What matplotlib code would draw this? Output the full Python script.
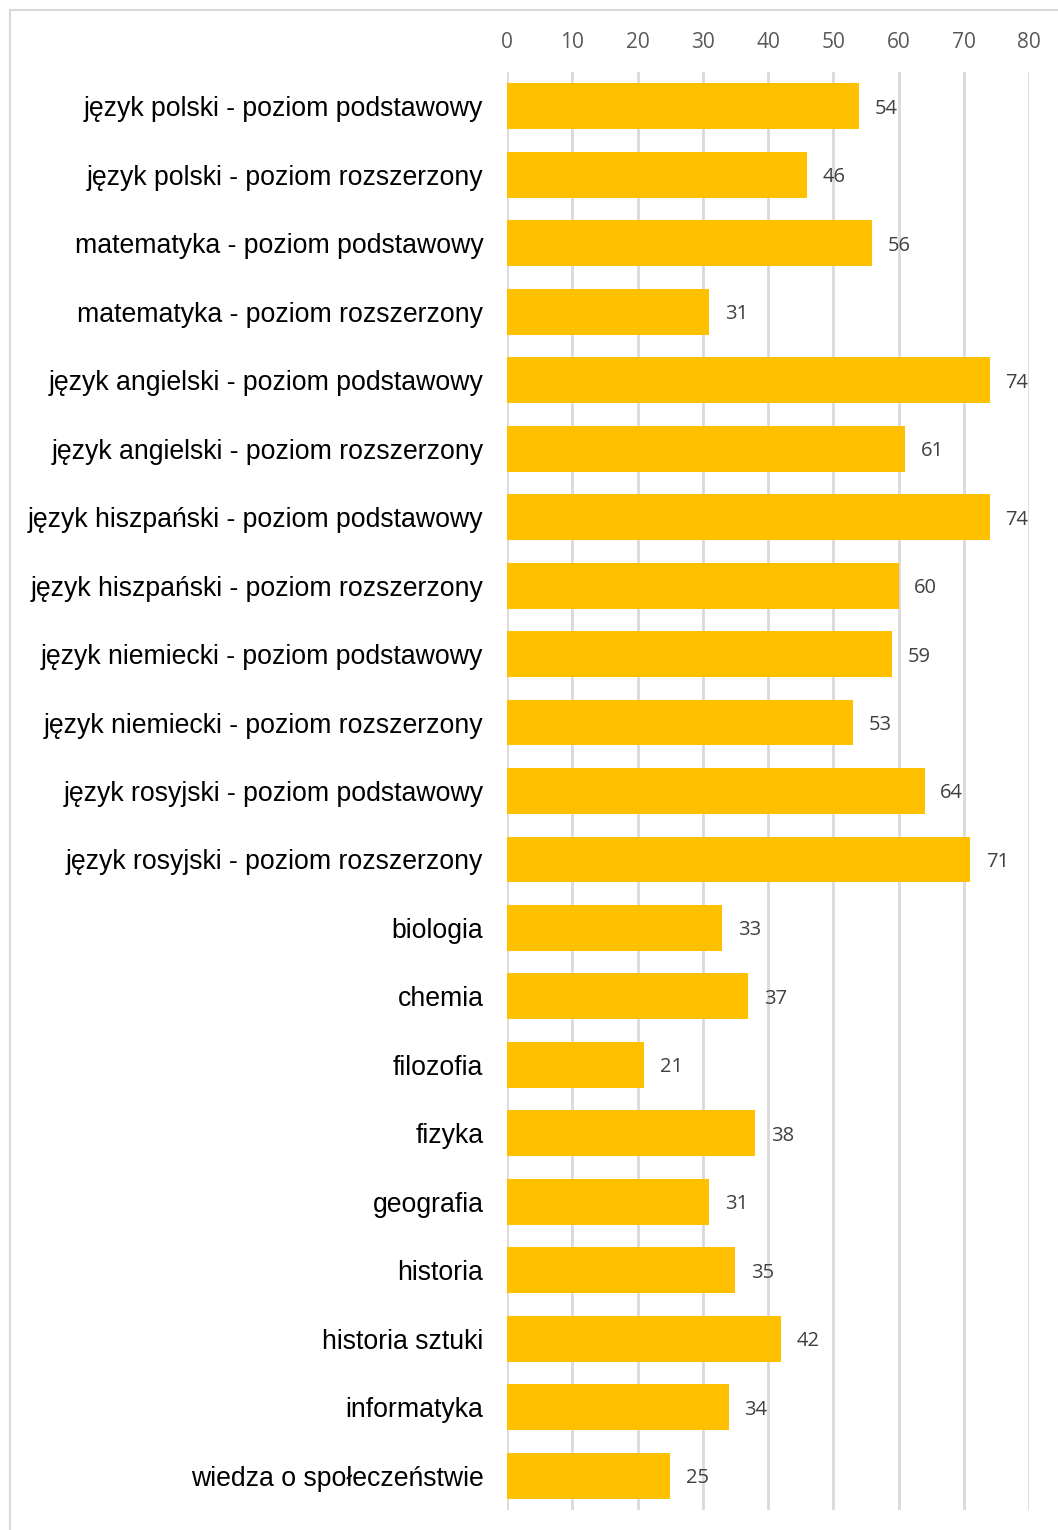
import matplotlib.pyplot as plt
from matplotlib.patches import Rectangle

# data
categories = [
    'język polski - poziom podstawowy',
    'język polski - poziom rozszerzony',
    'matematyka - poziom podstawowy',
    'matematyka - poziom rozszerzony',
    'język angielski - poziom podstawowy',
    'język angielski - poziom rozszerzony',
    'język hiszpański - poziom podstawowy',
    'język hiszpański - poziom rozszerzony',
    'język niemiecki - poziom podstawowy',
    'język niemiecki - poziom rozszerzony',
    'język rosyjski - poziom podstawowy',
    'język rosyjski - poziom rozszerzony',
    'biologia',
    'chemia',
    'filozofia',
    'fizyka',
    'geografia',
    'historia',
    'historia sztuki',
    'informatyka',
    'wiedza o społeczeństwie',
]
values = [54, 46, 56, 31, 74, 61, 74, 60, 59, 53, 64, 71, 33, 37, 21, 38, 31, 35, 42, 34, 25]
xticks = [0, 10, 20, 30, 40, 50, 60, 70, 80]

fig = plt.figure(figsize=(10.58, 15.30), dpi=100)
ax = fig.add_axes([507 / 1058, 1 - 1510 / 1530, 522 / 1058, (1510 - 72) / 1530])

# outer chart border (right/bottom fall outside the image)
fig.patches.append(Rectangle((10 / 1058, -0.05), 1.2, 1 - 10 / 1530 + 0.05,
                             transform=fig.transFigure, fill=False,
                             edgecolor='#d9d9d9', linewidth=1.5, zorder=0))

pos = list(range(len(categories)))
ax.barh(pos, values, height=0.67, color='#FFC000', zorder=2)

for p, v in zip(pos, values):
    ax.text(v + 2.4, p, str(v), va='center_baseline', ha='left', fontsize=14.5,
            color='#404040', family='Open Sans')

ax.set_xlim(0, 80)
ax.set_ylim(len(categories) - 0.5, -0.5)
ax.set_xticks(xticks)
ax.xaxis.tick_top()
ax.tick_params(axis='x', length=0, pad=14, labelsize=15, labelcolor='#595959')
for lbl in ax.get_xticklabels():
    lbl.set_family('Open Sans')
ax.set_yticks(pos)
ax.set_yticklabels(categories, fontsize=19.2, family='Liberation Sans', color='black')
ax.tick_params(axis='y', length=0, pad=17)
ax.grid(axis='x', color='#d9d9d9', linewidth=2, zorder=0)
ax.set_axisbelow(True)
for s in ax.spines.values():
    s.set_visible(False)

fig.savefig('out.png', dpi=100)
